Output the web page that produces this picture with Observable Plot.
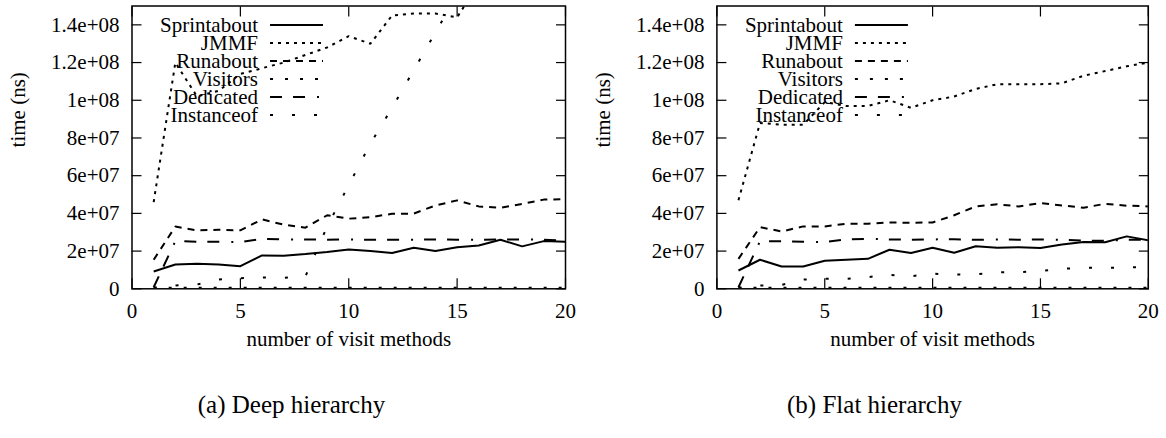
<!DOCTYPE html>
<html><head><meta charset="utf-8">
<script src="https://cdn.jsdelivr.net/npm/d3@7"></script>
<script src="https://cdn.jsdelivr.net/npm/@observablehq/plot@0.6"></script>
<style>
body{margin:0;background:#fff;}
#root{position:relative;width:1166px;height:438px;overflow:hidden;font-family:"Liberation Serif","Times New Roman",Times,"Nimbus Roman","DejaVu Serif",serif;color:#000;}
.panel{position:absolute;top:0;width:583px;}
.cap{position:absolute;width:583px;text-align:center;font-size:25px;top:392px;line-height:1;}
svg text{font-family:"Liberation Serif","Times New Roman",Times,"Nimbus Roman","DejaVu Serif",serif !important;}
</style></head><body><div id="root"></div>
<script>
// number of visit methods
const visitMethods = [1,2,3,4,5,6,7,8,9,10,11,12,13,14,15,16,17,18,19,20];
const seriesNames = ["Sprintabout","JMMF","Runabout","Visitors","Dedicated","Instanceof"];

// (a) Deep hierarchy, time (ns)
const deepSprintabout = [9.2e6,1.29e7,1.33e7,1.29e7,1.2e7,1.77e7,1.75e7,1.84e7,1.95e7,2.09e7,2.0e7,1.9e7,2.18e7,2.0e7,2.2e7,2.3e7,2.6e7,2.25e7,2.53e7,2.5e7];
const deepJMMF = [4.6e7,1.2e8,1.02e8,1.05e8,1.14e8,1.17e8,1.2e8,1.24e8,1.28e8,1.34e8,1.3e8,1.45e8,1.46e8,1.46e8,1.44e8,1.62e8,1.7e8,1.78e8,1.85e8,1.92e8];
const deepRunabout = [1.54e7,3.3e7,3.1e7,3.13e7,3.1e7,3.68e7,3.4e7,3.24e7,3.9e7,3.72e7,3.8e7,3.98e7,3.99e7,4.42e7,4.69e7,4.37e7,4.3e7,4.5e7,4.73e7,4.75e7];
const deepVisitors = [6e5,5e5,5e5,6e5,5e5,6e5,5e5,6e5,6e5,5e5,6e5,6e5,5e5,6e5,6e5,5e5,6e5,6e5,6e5,5e5];
const deepDedicated = [8e5,2.53e7,2.5e7,2.5e7,2.48e7,2.65e7,2.62e7,2.62e7,2.6e7,2.62e7,2.6e7,2.6e7,2.6e7,2.62e7,2.6e7,2.6e7,2.62e7,2.62e7,2.6e7,2.55e7];
const deepInstanceof = [5e5,1.75e6,2.3e6,4.9e6,5.6e6,6e6,5.8e6,6.5e6,3.3e7,5.5e7,7.7e7,9.6e7,1.16e8,1.36e8,1.56e8,1.75e8,1.95e8,2.15e8,2.35e8,2.55e8];

// (b) Flat hierarchy, time (ns)
const flatSprintabout = [9.7e6,1.54e7,1.18e7,1.18e7,1.49e7,1.54e7,1.59e7,2.07e7,1.9e7,2.18e7,1.91e7,2.26e7,2.18e7,2.21e7,2.16e7,2.35e7,2.48e7,2.47e7,2.78e7,2.57e7];
const flatJMMF = [4.7e7,8.8e7,8.7e7,8.7e7,9.9e7,9.7e7,9.7e7,1.0e8,9.6e7,1.0e8,1.02e8,1.06e8,1.085e8,1.085e8,1.085e8,1.09e8,1.13e8,1.155e8,1.18e8,1.2e8];
const flatRunabout = [1.59e7,3.27e7,3.04e7,3.31e7,3.31e7,3.45e7,3.45e7,3.52e7,3.5e7,3.52e7,3.9e7,4.37e7,4.48e7,4.37e7,4.55e7,4.42e7,4.3e7,4.51e7,4.41e7,4.37e7];
const flatVisitors = [6e5,5e5,5e5,6e5,5e5,6e5,5e5,6e5,6e5,5e5,6e5,6e5,5e5,6e5,6e5,5e5,6e5,6e5,6e5,5e5];
const flatDedicated = [8e5,2.53e7,2.52e7,2.5e7,2.48e7,2.62e7,2.65e7,2.62e7,2.6e7,2.62e7,2.63e7,2.6e7,2.62e7,2.6e7,2.62e7,2.6e7,2.55e7,2.55e7,2.6e7,2.6e7];
const flatInstanceof = [5e5,1.75e6,2.1e6,4.9e6,5.3e6,5.3e6,6.2e6,7.4e6,6.7e6,8e6,7.6e6,7.6e6,8.8e6,8.8e6,9.4e6,1.06e7,1.12e7,1.12e7,1.12e7,1.18e7];

const xTicks = [0,5,10,15,20];
const yTicks = [0,2e7,4e7,6e7,8e7,1e8,1.2e8,1.4e8];
const yTickLabels = ["0","2e+07","4e+07","6e+07","8e+07","1e+08","1.2e+08","1.4e+08"];
const xLabel = "number of visit methods";
const yLabel = "time (ns)";
const captions = ["(a) Deep hierarchy","(b) Flat hierarchy"];

const dashes = {Sprintabout: null, JMMF: "3,5", Runabout: "7,6", Visitors: "3,12", Dedicated: "12,11,12,12,2,11", Instanceof: "3,19"};
const FONT = '"Liberation Serif","Times New Roman",Times,"Nimbus Roman","DejaVu Serif",serif';

function toRows(arrs) {
  const rows = [];
  seriesNames.forEach((s, i) => visitMethods.forEach((x, j) => rows.push({series: s, x, y: arrs[i][j]})));
  return rows;
}

const root = document.getElementById("root");

function makePanel(arrs, left, marginLeft, marginRight, caption) {
  const rows = toRows(arrs);
  const H = 360, marginTop = 5.5, frameBottom = 288.3;
  const lineMarks = seriesNames.map(s => Plot.line(rows.filter(r => r.series === s), {
    x: "x", y: "y", stroke: "black", strokeWidth: 2, strokeDasharray: dashes[s] || undefined,
    strokeLinecap: "butt", strokeLinejoin: "miter", clip: true
  }));
  const chart = Plot.plot({
    width: 583, height: H,
    marginLeft, marginRight, marginTop, marginBottom: H - frameBottom,
    style: {fontFamily: FONT, fontSize: "21px", background: "white", color: "black", overflow: "visible"},
    x: {domain: [0, 20]},
    y: {domain: [0, 1.5e8]},
    marks: [
      Plot.axisX({ticks: xTicks, tickSize: -10, tickPadding: 24, tickFormat: d => String(d), label: null, strokeWidth: 1.2}),
      Plot.axisX({anchor: "top", ticks: xTicks, tickSize: -10, tickFormat: () => "", label: null, strokeWidth: 1.2}),
      Plot.axisY({ticks: yTicks, tickSize: -10, tickPadding: 22.5, tickFormat: d => yTickLabels[yTicks.indexOf(d)], label: null, strokeWidth: 1.2}),
      Plot.axisY({anchor: "right", ticks: yTicks, tickSize: -10, tickFormat: () => "", label: null, strokeWidth: 1.2}),
      Plot.text([xLabel], {text: d => d, frameAnchor: "bottom", dy: 50, lineAnchor: "middle"}),
      Plot.text([yLabel], {text: d => d, frameAnchor: "left", dx: -113.5, rotate: -90, lineAnchor: "middle"}),
      ...lineMarks,
      Plot.frame({stroke: "black", strokeWidth: 1.5})
    ]
  });
  // legend (key)
  const g = d3.select(chart).append("g").attr("class", "key");
  seriesNames.forEach((s, i) => {
    const yy = 25 + 18 * i;
    g.append("text").attr("x", marginLeft + 126.5).attr("y", yy + 7).attr("text-anchor", "end")
      .style("font-family", FONT).attr("font-size", 21).attr("fill", "black").text(s);
    g.append("line").attr("x1", marginLeft + 138.5).attr("x2", marginLeft + 191.5).attr("y1", yy).attr("y2", yy)
      .attr("stroke", "black").attr("stroke-width", 2).attr("stroke-dasharray", dashes[s] || null);
  });
  const div = document.createElement("div");
  div.className = "panel";
  div.style.left = left + "px";
  div.appendChild(chart);
  root.appendChild(div);
  const cap = document.createElement("div");
  cap.className = "cap";
  cap.style.left = left + "px";
  cap.textContent = caption;
  root.appendChild(cap);
}

makePanel([deepSprintabout, deepJMMF, deepRunabout, deepVisitors, deepDedicated, deepInstanceof], 0, 131.5, 18, captions[0]);
makePanel([flatSprintabout, flatJMMF, flatRunabout, flatVisitors, flatDedicated, flatInstanceof], 583, 133.4, 18.2, captions[1]);
</script></body></html>
